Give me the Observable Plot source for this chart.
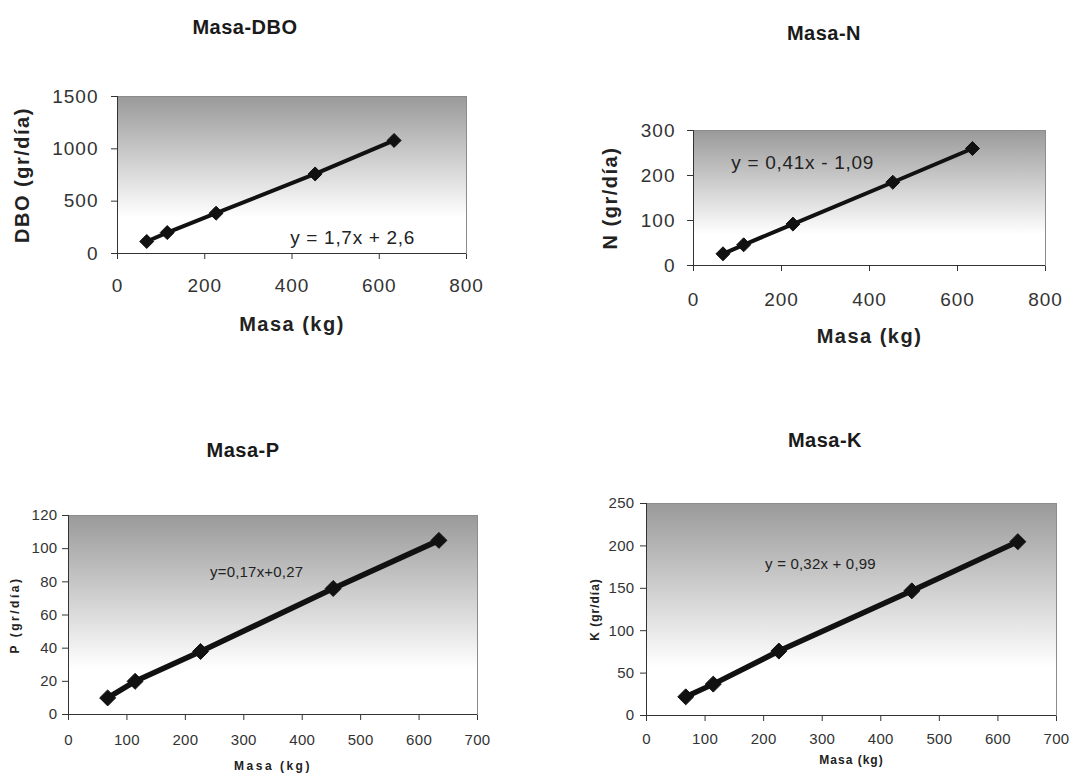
<!DOCTYPE html>
<html><head><meta charset="utf-8">
<script src="https://cdn.jsdelivr.net/npm/d3@7"></script>
<script src="https://cdn.jsdelivr.net/npm/@observablehq/plot@0.6"></script>
<style>
body{margin:0;background:#fff;}
#root{position:relative;width:1069px;height:777px;overflow:hidden;background:#fff;font-family:"Liberation Sans",Arial,sans-serif;}
.panel{position:absolute;}
.title{position:absolute;font-weight:bold;font-size:20px;color:#1a1a1a;transform:translate(-50%,-50%);white-space:nowrap;letter-spacing:0.5px;}
</style></head><body><div id="root"></div>
<script>
// ---- data ----
const masa = [67, 114, 226, 453, 634];
const dbo = [115, 200, 385, 760, 1080];
const nitrogeno = [26, 46, 92, 185, 260];
const fosforo = [10, 20, 38, 76, 105];
const potasio = [22, 37, 76, 147, 205];
const titles = ["Masa-DBO", "Masa-N", "Masa-P", "Masa-K"];
const yLabels = ["DBO (gr/día)", "N (gr/día)", "P (gr/día)", "K (gr/día)"];
const xLabel = "Masa (kg)";
const equations = ["y = 1,7x + 2,6", "y = 0,41x - 1,09", "y=0,17x+0,27", "y = 0,32x + 0,99"];
const eqX = [539, 248, 322, 297];
const eqY = [153, 229, 86, 179];
const xTicks800 = [0, 200, 400, 600, 800];
const xTicks700 = [0, 100, 200, 300, 400, 500, 600, 700];
const yTicksDBO = [0, 500, 1000, 1500];
const yTicksN = [0, 100, 200, 300];
const yTicksP = [0, 20, 40, 60, 80, 100, 120];
const yTicksK = [0, 50, 100, 150, 200, 250];

// ---- layout ----
const big = {font: '"Liberation Sans", Arial, sans-serif', fs: 19, ls: 1, lw: 4, r: 6.3, lblSize: 20, eqLs: 0.7};
const small = {font: '"Liberation Sans Narrow", "Liberation Sans", Arial, sans-serif', fs: 15, ls: 0.3, lw: 5.5, r: 7.2, lblSize: 12, eqLs: 0.2};
const panels = [
  {series: dbo, xTicks: xTicks800, yTicks: yTicksDBO, st: big, sx: 0, sy: 60, w: 530, h: 290,
   frame: [117, 466, 96, 253], xPad: 19, yPad: 13, xlDy: 77, ylDx: -95, title: [245, 27], lblLs: 1.5},
  {series: nitrogeno, xTicks: xTicks800, yTicks: yTicksN, st: big, sx: 540, sy: 60, w: 529, h: 300,
   frame: [693, 1045, 130, 265], xPad: 21, yPad: 12, xlDy: 77, ylDx: -83, title: [824, 33], lblLs: 1.5},
  {series: fosforo, xTicks: xTicks700, yTicks: yTicksP, st: small, sx: 0, sy: 470, w: 530, h: 307,
   frame: [68, 477, 515, 714], xPad: 14, yPad: 5, xlDy: 55, ylDx: -53, title: [243, 450], lblLs: 2.5},
  {series: potasio, xTicks: xTicks700, yTicks: yTicksK, st: small, sx: 540, sy: 470, w: 529, h: 307,
   frame: [646, 1056, 503, 715], xPad: 12, yPad: 6, xlDy: 48, ylDx: -51, title: [825, 440], lblLs: 1}
];

const root = document.getElementById("root");
panels.forEach((p, i) => {
  const [L, R, T, B] = p.frame;
  const st = p.st;
  const rows = masa.map((m, j) => ({masa: m, valor: p.series[j]}));
  const svg = Plot.plot({
    width: p.w, height: p.h,
    marginLeft: L - p.sx, marginRight: p.sx + p.w - R,
    marginTop: T - p.sy, marginBottom: p.sy + p.h - B,
    style: {fontFamily: st.font, fontSize: st.fs + "px", color: "#333", background: "transparent", overflow: "visible"},
    x: {domain: [0, p.xTicks[p.xTicks.length - 1]], ticks: p.xTicks, tickSize: 6, tickPadding: p.xPad, tickFormat: d => String(d), label: null},
    y: {domain: [0, p.yTicks[p.yTicks.length - 1]], ticks: p.yTicks, tickSize: 6, tickPadding: p.yPad, tickFormat: d => String(d), label: null},
    marks: [
      Plot.frame({fill: `url(#grad${i})`, stroke: "#8c8c8c"}),
      Plot.ruleY([0], {stroke: "#333"}),
      Plot.ruleX([0], {stroke: "#333"}),
      Plot.line(rows, {x: "masa", y: "valor", stroke: "#111", strokeWidth: st.lw}),
      Plot.dot(rows, {x: "masa", y: "valor", symbol: "diamond2", r: st.r, fill: "#111", stroke: "#111", strokeWidth: 1}),
      Plot.text([{x: eqX[i], y: eqY[i], t: equations[i]}], {x: "x", y: "y", text: "t", fill: "#222", fontSize: st.fs}),
      Plot.text([xLabel], {text: d => d, frameAnchor: "bottom", textAnchor: "middle", dy: p.xlDy, fontWeight: "bold", fontSize: st.lblSize, fill: "#222"}),
      Plot.text([yLabels[i]], {text: d => d, frameAnchor: "left", textAnchor: "middle", dx: p.ylDx, rotate: -90, fontWeight: "bold", fontSize: st.lblSize, fill: "#222"})
    ]
  });
  const ns = "http://www.w3.org/2000/svg";
  const defs = document.createElementNS(ns, "defs");
  defs.innerHTML = `<linearGradient id="grad${i}" x1="0" y1="0" x2="0" y2="1"><stop offset="0" stop-color="#9a9a9a"/><stop offset="0.77" stop-color="#ffffff"/><stop offset="1" stop-color="#ffffff"/></linearGradient>`;
  svg.insertBefore(defs, svg.firstChild);
  svg.querySelectorAll("text").forEach(t => {
    const s = t.textContent;
    if (s === xLabel || s === yLabels[i]) t.setAttribute("letter-spacing", p.lblLs);
    else if (s === equations[i]) t.setAttribute("letter-spacing", st.eqLs);
    else t.setAttribute("letter-spacing", st.ls);
  });
  const holder = document.createElement("div");
  holder.className = "panel";
  holder.style.left = p.sx + "px";
  holder.style.top = p.sy + "px";
  holder.appendChild(svg);
  root.appendChild(holder);
  const title = document.createElement("div");
  title.className = "title";
  title.textContent = titles[i];
  title.style.left = p.title[0] + "px";
  title.style.top = p.title[1] + "px";
  root.appendChild(title);
});
</script></body></html>
